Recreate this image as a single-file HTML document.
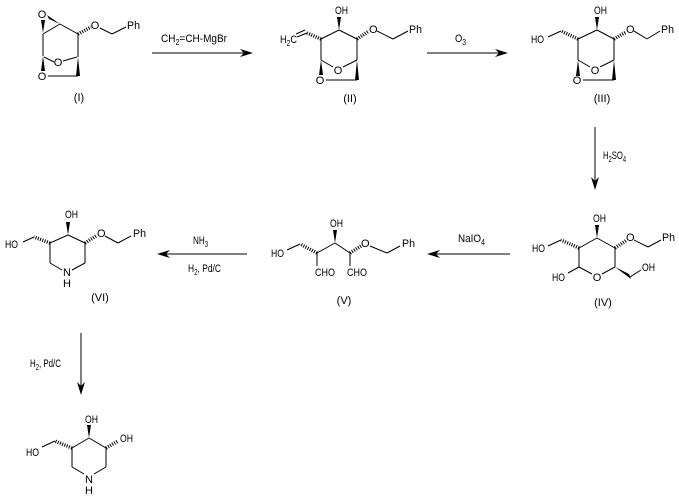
<!DOCTYPE html>
<html><head><meta charset="utf-8"><style>
html,body{margin:0;padding:0;background:#fff;}
svg{display:block;}
text{font-family:"Liberation Sans",Arial,sans-serif;font-size:11px;fill:#000;}
line{stroke:#000;stroke-width:1;}
.h{stroke:#000;stroke-width:3.5;stroke-dasharray:1 1.4;}
</style></head><body>
<svg width="679" height="500" viewBox="0 0 679 500" xmlns="http://www.w3.org/2000/svg">

<!-- ===== Structure I ===== -->
<text x="42" y="18" text-anchor="middle">O</text>
<polygon points="41,20 45,20 43,33"/>
<polygon points="47,15 49,19 60,24"/>
<line x1="43" y1="34" x2="60" y2="24"/>
<line x1="60" y1="24" x2="78" y2="34"/>
<line class="h" x1="78" y1="34" x2="91" y2="27"/>
<text x="95" y="29" text-anchor="middle">O</text>
<line x1="100" y1="28" x2="112" y2="34"/>
<line x1="112" y1="34" x2="126" y2="27"/>
<text x="127" y="29" textLength="13" lengthAdjust="spacingAndGlyphs">Ph</text>
<line x1="78" y1="34" x2="78" y2="57"/>
<polygon points="78,57 76,76 80,76"/>
<line x1="78" y1="76" x2="48" y2="76"/>
<text x="42" y="80" text-anchor="middle">O</text>
<line x1="43" y1="34" x2="43" y2="56"/>
<polygon points="43,56 41,71 45,71"/>
<line x1="44" y1="57" x2="54" y2="62"/>
<text x="58" y="66" text-anchor="middle">O</text>
<line x1="63" y1="61" x2="77" y2="57"/>
<text x="79" y="101" text-anchor="middle">(I)</text>

<!-- Arrow 1 -->
<text x="161" y="42" textLength="66" lengthAdjust="spacingAndGlyphs">CH<tspan font-size="8" dy="3">2</tspan><tspan dy="-3">=CH-MgBr</tspan></text>
<line x1="152" y1="53" x2="245" y2="53"/>
<polygon points="253,53 240,49 244,53 240,57"/>

<!-- ===== Structure II ===== -->
<text x="335" y="14" textLength="13" lengthAdjust="spacingAndGlyphs">OH</text>
<polygon points="339,30 337,17 341,17"/>
<line x1="321" y1="39" x2="339" y2="30"/>
<line x1="339" y1="30" x2="357" y2="39"/>
<line class="h" x1="357" y1="39" x2="369" y2="31"/>
<text x="369" y="33">O</text>
<line x1="377" y1="31" x2="393" y2="39"/>
<line x1="393" y1="39" x2="408" y2="31"/>
<text x="409" y="33" textLength="13" lengthAdjust="spacingAndGlyphs">Ph</text>
<line class="h" x1="321" y1="39" x2="307" y2="33"/>
<line x1="307" y1="33" x2="297" y2="37"/>
<line x1="305" y1="30" x2="296" y2="34"/>
<text x="280" y="43" textLength="17" lengthAdjust="spacingAndGlyphs">H<tspan font-size="8" dy="3">2</tspan><tspan dy="-3">C</tspan></text>
<line x1="321" y1="39" x2="321" y2="60"/>
<line x1="357" y1="39" x2="357" y2="60"/>
<polygon points="321,60 319,75 323,75"/>
<text x="320" y="84" text-anchor="middle">O</text>
<polygon points="357,60 355,80 359,80"/>
<line x1="357" y1="80" x2="326" y2="80"/>
<line x1="321" y1="60" x2="333" y2="67"/>
<text x="338" y="74" text-anchor="middle">O</text>
<line x1="343" y1="67" x2="357" y2="60"/>
<text x="350" y="102" text-anchor="middle">(II)</text>

<!-- Arrow 2 -->
<text x="455" y="42" textLength="11" lengthAdjust="spacingAndGlyphs">O<tspan font-size="8" dy="3">3</tspan></text>
<line x1="427" y1="53" x2="500" y2="53"/>
<polygon points="508,53 495,49 499,53 495,57"/>

<!-- ===== Structure III ===== -->
<text x="594" y="14" textLength="13" lengthAdjust="spacingAndGlyphs">OH</text>
<polygon points="597,30 595,17 599,17"/>
<line x1="578" y1="39" x2="597" y2="30"/>
<line x1="597" y1="30" x2="614" y2="39"/>
<line class="h" x1="614" y1="39" x2="626" y2="32"/>
<text x="626" y="33">O</text>
<line x1="634" y1="31" x2="647" y2="39"/>
<line x1="647" y1="39" x2="660" y2="31"/>
<text x="661" y="33" textLength="13" lengthAdjust="spacingAndGlyphs">Ph</text>
<line class="h" x1="578" y1="39" x2="561" y2="31"/>
<line x1="561" y1="31" x2="548" y2="37"/>
<text x="531" y="43" textLength="13" lengthAdjust="spacingAndGlyphs">HO</text>
<line x1="578" y1="39" x2="578" y2="60"/>
<line x1="614" y1="39" x2="614" y2="60"/>
<polygon points="578,60 576,76 580,76"/>
<text x="577" y="84" text-anchor="middle">O</text>
<polygon points="614,60 612,80 616,80"/>
<line x1="614" y1="80" x2="583" y2="80"/>
<line x1="578" y1="60" x2="590" y2="67"/>
<text x="595" y="74" text-anchor="middle">O</text>
<line x1="600" y1="67" x2="614" y2="60"/>
<text x="602" y="102" text-anchor="middle">(III)</text>

<!-- Arrow 3 -->
<line x1="595" y1="127" x2="595" y2="182"/>
<polygon points="595,190 591,177 595,181 599,177"/>
<text x="603" y="159" textLength="23" lengthAdjust="spacingAndGlyphs">H<tspan font-size="8" dy="3">2</tspan><tspan dy="-3">SO</tspan><tspan font-size="8" dy="3">4</tspan></text>

<!-- ===== Structure IV ===== -->
<text x="593" y="222" textLength="13" lengthAdjust="spacingAndGlyphs">OH</text>
<polygon points="597,238 595,225 599,225"/>
<line x1="579" y1="248" x2="597" y2="238"/>
<line x1="597" y1="238" x2="615" y2="248"/>
<line class="h" x1="615" y1="248" x2="627" y2="240"/>
<text x="626" y="241">O</text>
<line x1="634" y1="240" x2="648" y2="247"/>
<line x1="648" y1="247" x2="661" y2="240"/>
<text x="662" y="241" textLength="13" lengthAdjust="spacingAndGlyphs">Ph</text>
<line class="h" x1="579" y1="248" x2="561" y2="240"/>
<line x1="561" y1="240" x2="548" y2="246"/>
<text x="532" y="252" textLength="13" lengthAdjust="spacingAndGlyphs">HO</text>
<line x1="579" y1="248" x2="579" y2="267"/>
<line x1="615" y1="248" x2="615" y2="267"/>
<line x1="579" y1="267" x2="592" y2="274"/>
<text x="597" y="281" text-anchor="middle">O</text>
<line x1="602" y1="274" x2="615" y2="267"/>
<line x1="579" y1="267" x2="568" y2="273"/>
<text x="552" y="281" textLength="13" lengthAdjust="spacingAndGlyphs">HO</text>
<polygon points="615,267 629,274 631,279"/>
<line x1="630" y1="277" x2="641" y2="270"/>
<text x="642" y="271" textLength="13" lengthAdjust="spacingAndGlyphs">OH</text>
<text x="603" y="306" text-anchor="middle">(IV)</text>

<!-- Arrow 4 -->
<text x="458" y="242" textLength="27" lengthAdjust="spacingAndGlyphs">NaIO<tspan font-size="8" dy="3">4</tspan></text>
<line x1="510" y1="254" x2="435" y2="254"/>
<polygon points="427,254 440,250 436,254 440,258"/>

<!-- ===== Structure V ===== -->
<text x="330" y="227" textLength="13" lengthAdjust="spacingAndGlyphs">OH</text>
<polygon points="335,243 333,230 337,230"/>
<line x1="317" y1="253" x2="335" y2="243"/>
<line x1="335" y1="243" x2="350" y2="253"/>
<line class="h" x1="350" y1="253" x2="361" y2="246"/>
<text x="361" y="247">O</text>
<line x1="370" y1="246" x2="387" y2="253"/>
<line x1="387" y1="253" x2="400" y2="246"/>
<text x="402" y="247" textLength="13" lengthAdjust="spacingAndGlyphs">Ph</text>
<line class="h" x1="317" y1="253" x2="300" y2="244"/>
<line x1="300" y1="244" x2="287" y2="250"/>
<text x="271" y="257" textLength="13" lengthAdjust="spacingAndGlyphs">HO</text>
<line x1="317" y1="253" x2="317" y2="266"/>
<text x="315" y="276" textLength="20" lengthAdjust="spacingAndGlyphs">CHO</text>
<line x1="350" y1="253" x2="350" y2="266"/>
<text x="347" y="276" textLength="20" lengthAdjust="spacingAndGlyphs">CHO</text>
<text x="344" y="304" text-anchor="middle">(V)</text>

<!-- Arrow 5 -->
<text x="193" y="244" textLength="15" lengthAdjust="spacingAndGlyphs">NH<tspan font-size="8" dy="3">3</tspan></text>
<line x1="247" y1="254" x2="165" y2="254"/>
<polygon points="157,254 170,250 166,254 170,258"/>
<text x="188" y="272" textLength="33" lengthAdjust="spacingAndGlyphs">H<tspan font-size="8" dy="3">2</tspan><tspan dy="-3">, Pd/C</tspan></text>

<!-- ===== Structure VI ===== -->
<text x="65" y="218" textLength="13" lengthAdjust="spacingAndGlyphs">OH</text>
<polygon points="68,235 66,222 70,222"/>
<line x1="50" y1="243" x2="68" y2="235"/>
<line x1="68" y1="235" x2="85" y2="243"/>
<line class="h" x1="85" y1="243" x2="96" y2="236"/>
<text x="97" y="237">O</text>
<line x1="105" y1="236" x2="118" y2="243"/>
<line x1="118" y1="243" x2="131" y2="236"/>
<text x="133" y="237" textLength="13" lengthAdjust="spacingAndGlyphs">Ph</text>
<line class="h" x1="50" y1="243" x2="34" y2="237"/>
<line x1="34" y1="237" x2="23" y2="242"/>
<text x="5" y="248" textLength="13" lengthAdjust="spacingAndGlyphs">HO</text>
<line x1="50" y1="243" x2="50" y2="263"/>
<line x1="85" y1="243" x2="85" y2="263"/>
<line x1="50" y1="263" x2="62" y2="270"/>
<line x1="85" y1="263" x2="72" y2="270"/>
<text x="67" y="276" text-anchor="middle">N</text>
<text x="67" y="287" text-anchor="middle">H</text>
<text x="100" y="301" text-anchor="middle">(VI)</text>

<!-- Arrow 6 -->
<line x1="81" y1="333" x2="81" y2="387"/>
<polygon points="81,395 77,382 81,386 85,382"/>
<text x="30" y="367" textLength="31" lengthAdjust="spacingAndGlyphs">H<tspan font-size="8" dy="3">2</tspan><tspan dy="-3">, Pd/C</tspan></text>

<!-- ===== Final product ===== -->
<text x="85" y="423" textLength="13" lengthAdjust="spacingAndGlyphs">OH</text>
<polygon points="89,438 87,425 91,425"/>
<line x1="72" y1="448" x2="89" y2="438"/>
<line x1="89" y1="438" x2="106" y2="448"/>
<line class="h" x1="106" y1="448" x2="118" y2="441"/>
<text x="120" y="442" textLength="13" lengthAdjust="spacingAndGlyphs">OH</text>
<line class="h" x1="72" y1="448" x2="55" y2="441"/>
<line x1="55" y1="441" x2="42" y2="447"/>
<text x="26" y="456" textLength="13" lengthAdjust="spacingAndGlyphs">HO</text>
<line x1="72" y1="448" x2="72" y2="467"/>
<line x1="106" y1="448" x2="106" y2="467"/>
<line x1="72" y1="467" x2="84" y2="474"/>
<line x1="106" y1="467" x2="94" y2="474"/>
<text x="89" y="483" text-anchor="middle">N</text>
<text x="89" y="494" text-anchor="middle">H</text>

</svg>
</body></html>
